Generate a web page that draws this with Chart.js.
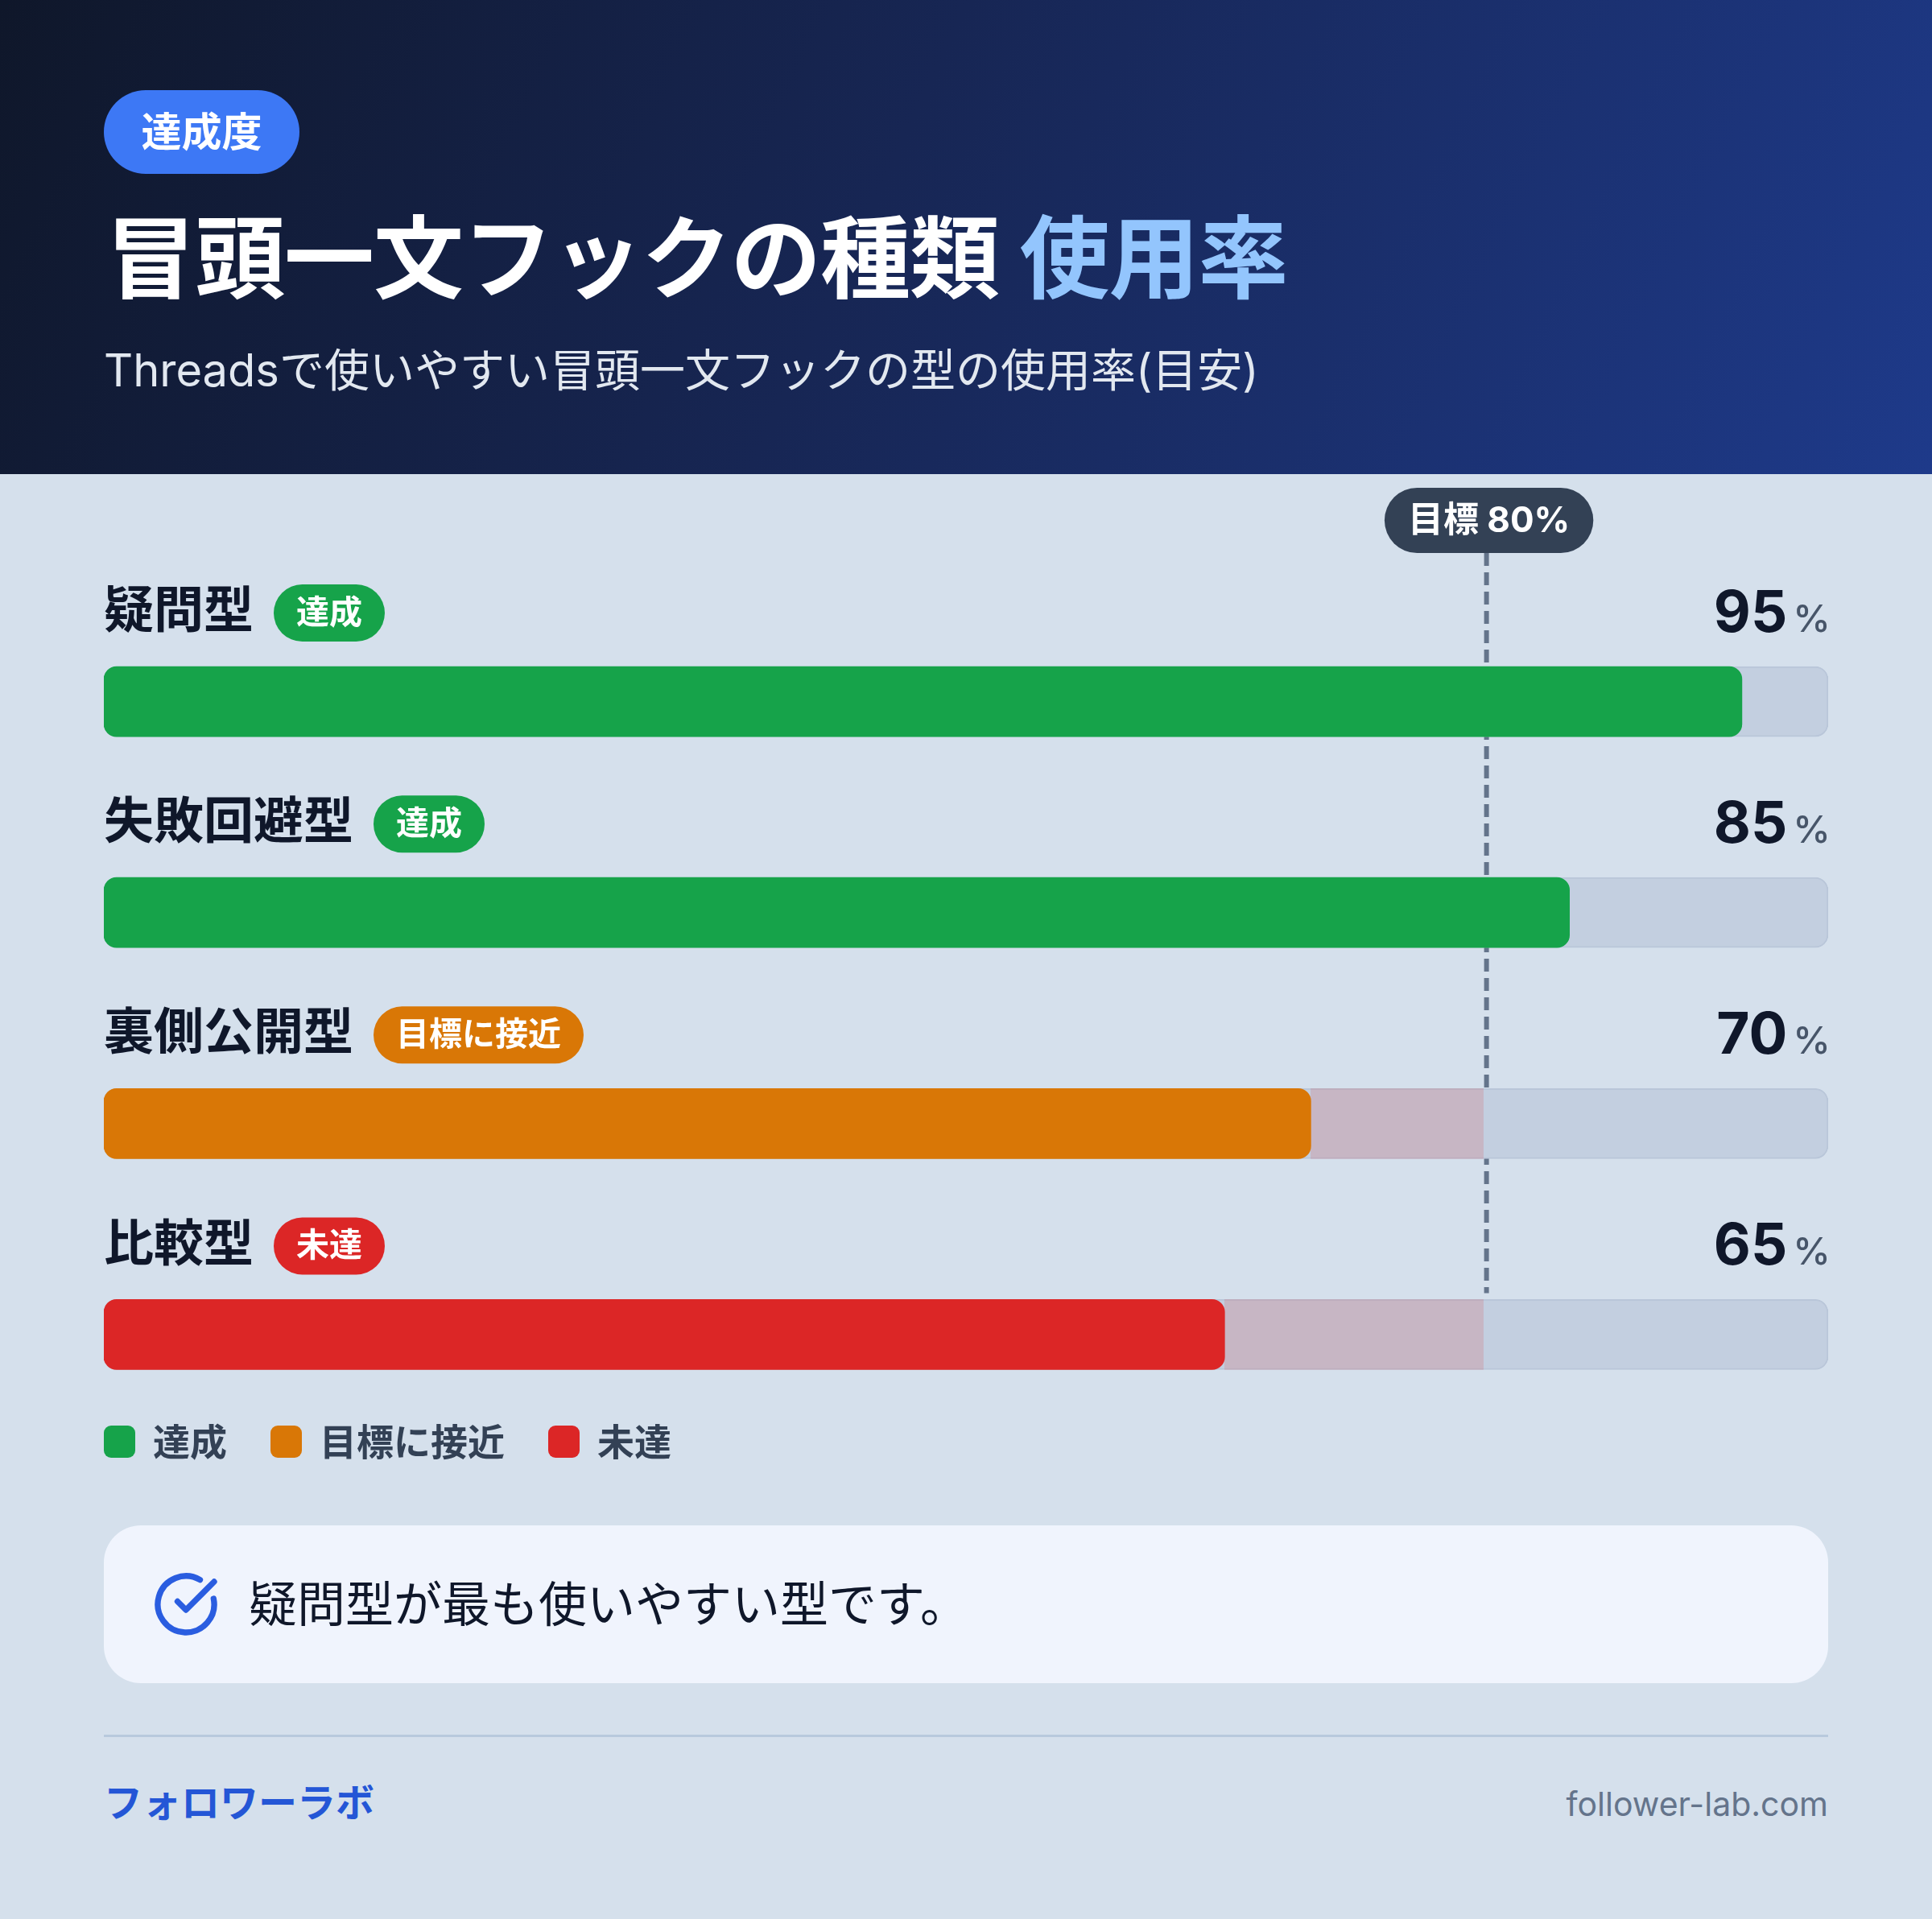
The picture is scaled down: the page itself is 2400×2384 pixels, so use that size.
<!DOCTYPE html>
<html lang="ja">
<head>
<meta charset="utf-8">
<script src="https://cdn.jsdelivr.net/npm/chart.js@4.4.1/dist/chart.umd.min.js"></script>
<style>
  html, body { margin: 0; padding: 0; }
  body {
    width: 2400px; height: 2384px; position: relative; overflow: hidden;
    background: #d5e0ec;
    font-family: Inter, "Noto Sans CJK JP", sans-serif;
  }
  .header {
    position: absolute; left: 0; top: 0; width: 2400px; height: 589px;
    background: linear-gradient(115deg, #0f172a 0%, #172654 45%, #1e3a8a 100%);
  }
  .tag {
    position: absolute; left: 129px; top: 112px; width: 243px; height: 104px;
    border-radius: 52px; background: #3d78f5; color: #fff;
    font-size: 50px; font-weight: 700; line-height: 104px; text-align: center;
  }
  .title {
    position: absolute; left: 131px; top: 262px; margin: 0;
    font-size: 112px; font-weight: 700; line-height: 118px; color: #fff;
    white-space: nowrap; letter-spacing: -1px;
  }
  .title span { color: #93c5fd; }
  .subtitle {
    position: absolute; left: 129px; top: 428px; margin: 0;
    font-size: 56px; line-height: 64px; color: #e2e8f0; white-space: nowrap;
  }
  #chart { position: absolute; left: 0; top: 589px; }
  .legend {
    position: absolute; left: 129px; top: 1765px; height: 52px;
    display: flex; align-items: center;
  }
  .legend .item { display: flex; align-items: center; margin-right: 54px; }
  .legend .sw { width: 39px; height: 40px; border-radius: 9px; margin-right: 22px; }
  .legend .tx { font-size: 46px; font-weight: 700; color: #334155; line-height: 52px; }
  .summary {
    position: absolute; left: 129px; top: 1895px; width: 2142px; height: 196px;
    border-radius: 46px; background: #f0f4fd;
  }
  .summary svg { position: absolute; left: 60px; top: 56px; }
  .summary .tx {
    position: absolute; left: 180px; top: 0; height: 196px; line-height: 196px;
    font-size: 60px; color: #0f172a; white-space: nowrap;
  }
  .divider {
    position: absolute; left: 129px; top: 2155px; width: 2142px; height: 3px; background: #b8c9dd;
  }
  .brand {
    position: absolute; left: 129px; top: 2212px; line-height: 56px;
    font-size: 48px; font-weight: 700; color: #2456d6;
  }
  .domain {
    position: absolute; right: 129px; top: 2213px; line-height: 56px;
    font-size: 41px; color: #64748b;
  }
</style>
</head>
<body>
<div class="header">
  <div class="tag">達成度</div>
  <h1 class="title">冒頭一文フックの種類 <span>使用率</span></h1>
  <p class="subtitle">Threadsで使いやすい冒頭一文フックの型の使用率(目安)</p>
</div>

<canvas id="chart" width="2400" height="1210"></canvas>

<div class="legend" id="legend"></div>

<div class="summary">
  <svg width="84" height="84" viewBox="0 0 24 24" fill="none" stroke="#2a5de0" stroke-width="2.1" stroke-linecap="round" stroke-linejoin="round">
    <path d="M21.801 10A10 10 0 1 1 17 3.335"/>
    <path d="m9 11 3 3L22 4"/>
  </svg>
  <div class="tx">疑問型が最も使いやすい型です。</div>
</div>

<div class="divider"></div>
<div class="brand">フォロワーラボ</div>
<div class="domain">follower-lab.com</div>

<script>
// データ
var hookTypes = ['疑問型', '失敗回避型', '裏側公開型', '比較型'];
var usageRates = [95, 85, 70, 65];
var statuses = ['達成', '達成', '目標に接近', '未達'];
var target = 80;
var scaleMax = 100;

var statusNames = ['達成', '目標に接近', '未達'];
var statusColors = { '達成': '#16a34a', '目標に接近': '#d97706', '未達': '#dc2626' };

// 凡例
var legendEl = document.getElementById('legend');
statusNames.forEach(function (name) {
  var item = document.createElement('div');
  item.className = 'item';
  item.innerHTML = '<div class="sw" style="background:' + statusColors[name] + '"></div><div class="tx">' + name + '</div>';
  legendEl.appendChild(item);
});

var barColors = statuses.map(function (s) { return statusColors[s]; });
var gapRanges = usageRates.map(function (v) { return v < target ? [v, target] : null; });
var trackData = hookTypes.map(function () { return scaleMax; });

var FONT = 'Inter, "Noto Sans CJK JP", sans-serif';
var BAR_H = 87;

function roundRect(ctx, x, y, w, h, r) {
  ctx.beginPath();
  ctx.moveTo(x + r, y);
  ctx.lineTo(x + w - r, y);
  ctx.arc(x + w - r, y + r, r, -Math.PI / 2, 0);
  ctx.lineTo(x + w, y + h - r);
  ctx.arc(x + w - r, y + h - r, r, 0, Math.PI / 2);
  ctx.lineTo(x + r, y + h);
  ctx.arc(x + r, y + h - r, r, Math.PI / 2, Math.PI);
  ctx.lineTo(x, y + r);
  ctx.arc(x + r, y + r, r, Math.PI, Math.PI * 1.5);
  ctx.closePath();
}

// 目標ライン(バーの下に描く)
var targetLine = {
  id: 'targetLine',
  beforeDatasetsDraw: function (chart) {
    var ctx = chart.ctx;
    var x = chart.scales.x.getPixelForValue(target) + 4;
    var bars = chart.getDatasetMeta(0).data;
    var last = bars[bars.length - 1];
    ctx.save();
    ctx.strokeStyle = '#64748b';
    ctx.lineWidth = 6;
    ctx.setLineDash([16, 8]);
    ctx.beginPath();
    ctx.moveTo(x, 98);
    ctx.lineTo(x, last.y - BAR_H / 2 - 8);
    ctx.stroke();
    ctx.restore();
  },
  afterDatasetsDraw: function (chart) {
    var ctx = chart.ctx;
    var x = chart.scales.x.getPixelForValue(target) + 7;
    var right = chart.chartArea.right;
    var left = chart.chartArea.left;

    // 目標ピル
    ctx.save();
    ctx.font = '700 44px ' + FONT;
    var label = '目標 ' + target + '%';
    var tw = ctx.measureText(label).width;
    var pw = tw + 58, ph = 81;
    ctx.fillStyle = '#334155';
    roundRect(ctx, x - pw / 2, 17, pw, ph, ph / 2);
    ctx.fill();
    ctx.fillStyle = '#ffffff';
    ctx.textAlign = 'center';
    ctx.textBaseline = 'middle';
    ctx.fillText(label, x, 17 + ph / 2 + 1);
    ctx.restore();

    // ラベル・バッジ・値
    chart.getDatasetMeta(0).data.forEach(function (bar, i) {
      var cy = bar.y - 110;
      ctx.save();
      ctx.textBaseline = 'middle';
      ctx.textAlign = 'left';
      ctx.font = '700 62px ' + FONT;
      ctx.fillStyle = '#0f172a';
      ctx.fillText(hookTypes[i], left, cy);
      var lw = ctx.measureText(hookTypes[i]).width;

      ctx.font = '700 41px ' + FONT;
      var bw = ctx.measureText(statuses[i]).width + 56, bh = 71;
      var bx = left + lw + 25;
      ctx.fillStyle = statusColors[statuses[i]];
      roundRect(ctx, bx, cy - bh / 2, bw, bh, bh / 2);
      ctx.fill();
      ctx.fillStyle = '#ffffff';
      ctx.fillText(statuses[i], bx + 28, cy + 1);

      var base = bar.y - 87;
      ctx.textBaseline = 'alphabetic';
      ctx.textAlign = 'right';
      ctx.font = '500 47px ' + FONT;
      ctx.fillStyle = '#475569';
      ctx.fillText('%', right + 3, base);
      var pw2 = ctx.measureText('%').width;
      ctx.font = '700 71px ' + FONT;
      ctx.fillStyle = '#0f172a';
      ctx.fillText(String(usageRates[i]), right + 3 - pw2 - 7, base);
      ctx.restore();
    });
  }
};

new Chart(document.getElementById('chart'), {
  type: 'bar',
  data: {
    labels: hookTypes,
    datasets: [{
      label: '使用率',
      data: usageRates,
      backgroundColor: barColors,
      borderRadius: 16,
      borderSkipped: false,
      barThickness: BAR_H,
      grouped: false
    }, {
      label: '目標との差',
      data: gapRanges,
      backgroundColor: 'rgba(220, 38, 38, 0.15)',
      borderRadius: 0,
      borderSkipped: false,
      barThickness: BAR_H,
      grouped: false
    }, {
      label: 'トラック',
      data: trackData,
      backgroundColor: '#c3cfe0',
      borderColor: '#b9c6d9',
      borderWidth: 2,
      borderRadius: 16,
      borderSkipped: false,
      barThickness: BAR_H,
      grouped: false
    }]
  },
  options: {
    indexAxis: 'y',
    responsive: false,
    animation: false,
    layout: { padding: { left: 129, right: 129, top: 151.5, bottom: 10 } },
    scales: {
      x: { min: 0, max: scaleMax, display: false },
      y: { display: false }
    },
    plugins: {
      legend: { display: false },
      tooltip: { enabled: false }
    }
  },
  plugins: [targetLine]
});
</script>
</body>
</html>
